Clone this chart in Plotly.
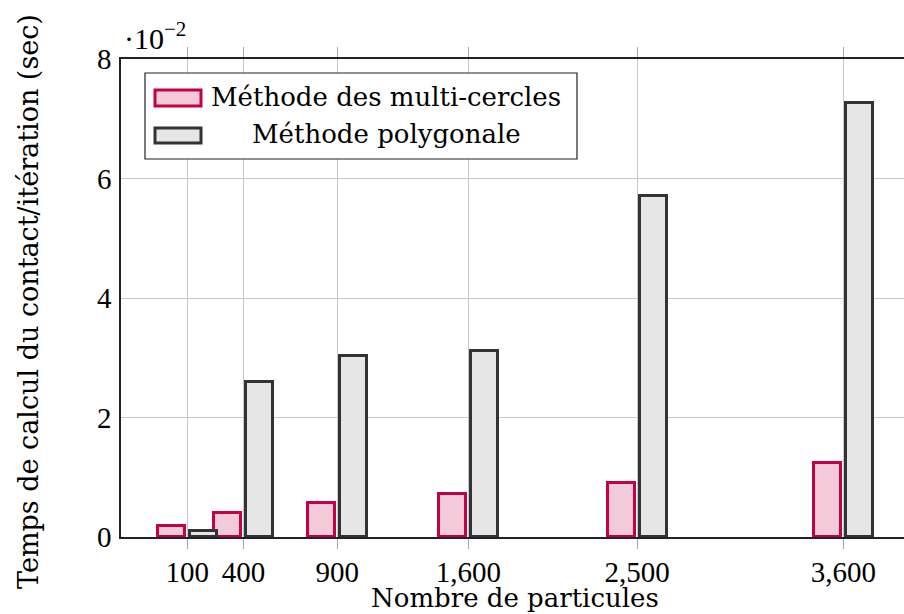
import plotly.graph_objects as go

# Data
particles = [100, 400, 900, 1600, 2500, 3600]
tick_labels = ["100", "400", "900", "1,600", "2,500", "3,600"]
y_ticks = [0, 2, 4, 6, 8]
series_names = ["Méthode des multi-cercles", "Méthode polygonale"]
multi_cercles = [0.18, 0.41, 0.57, 0.72, 0.91, 1.24]   # x 1e-2 sec
polygonale = [0.10, 2.60, 3.03, 3.12, 5.71, 7.27]      # x 1e-2 sec
x_title = "Nombre de particules"
y_title = "Temps de calcul du contact/itération (sec)"

NUMFONT = "Liberation Serif"
TXTFONT = "DejaVu Serif"
C_MULTI_LINE = "#c4004a"
C_MULTI_FILL = "#f2cad8"
C_POLY_LINE = "#333333"
C_POLY_FILL = "#e6e6e6"
GRID = "#c8c8c8"

W, H = 904, 614
PL, PR, PT, PB = 121, 904, 59, 537
XR = [-254, 3924]

fig = go.Figure()
fig.add_trace(go.Bar(
    x=particles, y=multi_cercles, name=series_names[0],
    width=[144] * len(particles), offset=-157,
    marker=dict(color=C_MULTI_FILL, line=dict(color=C_MULTI_LINE, width=3)),
    showlegend=False,
))
fig.add_trace(go.Bar(
    x=particles, y=polygonale, name=series_names[1],
    width=[144] * len(particles), offset=13,
    marker=dict(color=C_POLY_FILL, line=dict(color=C_POLY_LINE, width=3)),
    showlegend=False,
))

fig.update_layout(
    width=W, height=H,
    margin=dict(l=PL, r=W - PR, t=PT, b=H - PB, autoexpand=False),
    plot_bgcolor="white", paper_bgcolor="white",
    font=dict(family=NUMFONT, size=29, color="black"),
    bargap=0,
    xaxis=dict(
        range=XR, tickvals=particles, ticktext=tick_labels,
        showgrid=True, gridcolor=GRID, gridwidth=1,
        showline=True, linecolor="#222222", linewidth=1.5, mirror="allticks",
        ticks="outside", ticklen=10, tickcolor="#a8a8a8", tickwidth=1,
        zeroline=False, automargin=False,
        tickfont=dict(family=NUMFONT, size=29),
        ticklabelstandoff=-2,
    ),
    yaxis=dict(
        range=[0, 8], tickvals=y_ticks,
        showgrid=True, gridcolor=GRID, gridwidth=1,
        showline=True, linecolor="#222222", linewidth=1.5,
        ticks="", zeroline=False, automargin=False,
        tickfont=dict(family=NUMFONT, size=29),
        ticklabelstandoff=2,
    ),
)

def ppx(x): return (x - PL) / (PR - PL)
def ppy(y): return (PB - y) / (PB - PT)

legend_shapes = [
    dict(type="rect", xref="paper", yref="paper",
         x0=ppx(145), x1=ppx(577), y0=ppy(159), y1=ppy(73),
         line=dict(color="#222222", width=1.2), fillcolor="white", layer="above"),
    dict(type="rect", xref="paper", yref="paper",
         x0=ppx(155), x1=ppx(201), y0=ppy(106), y1=ppy(90),
         line=dict(color=C_MULTI_LINE, width=3), fillcolor=C_MULTI_FILL, layer="above"),
    dict(type="rect", xref="paper", yref="paper",
         x0=ppx(155), x1=ppx(201), y0=ppy(143), y1=ppy(128),
         line=dict(color=C_POLY_LINE, width=3), fillcolor=C_POLY_FILL, layer="above"),
]
fig.update_layout(shapes=legend_shapes)

fig.add_annotation(xref="paper", yref="paper", x=ppx(386), y=ppy(97),
                   text=series_names[0], showarrow=False, xanchor="center", yanchor="middle",
                   font=dict(family=TXTFONT, size=26))
fig.add_annotation(xref="paper", yref="paper", x=ppx(386), y=ppy(134),
                   text=series_names[1], showarrow=False, xanchor="center", yanchor="middle",
                   font=dict(family=TXTFONT, size=26))
fig.add_annotation(xref="paper", yref="paper", x=ppx(122), y=ppy(36),
                   text="·10<sup>−2</sup>", showarrow=False, xanchor="left", yanchor="middle",
                   font=dict(family=NUMFONT, size=30))
fig.add_annotation(xref="paper", yref="paper", x=ppx(515), y=ppy(598),
                   text=x_title, showarrow=False, xanchor="center", yanchor="middle",
                   font=dict(family=TXTFONT, size=26))
fig.add_annotation(xref="paper", yref="paper", x=ppx(28), y=ppy(302),
                   text=y_title, showarrow=False, xanchor="center", yanchor="middle",
                   textangle=-90, font=dict(family=TXTFONT, size=27))

fig.write_html("out.html", config={"displayModeBar": False},
               post_script="document.body.style.margin='0';")
